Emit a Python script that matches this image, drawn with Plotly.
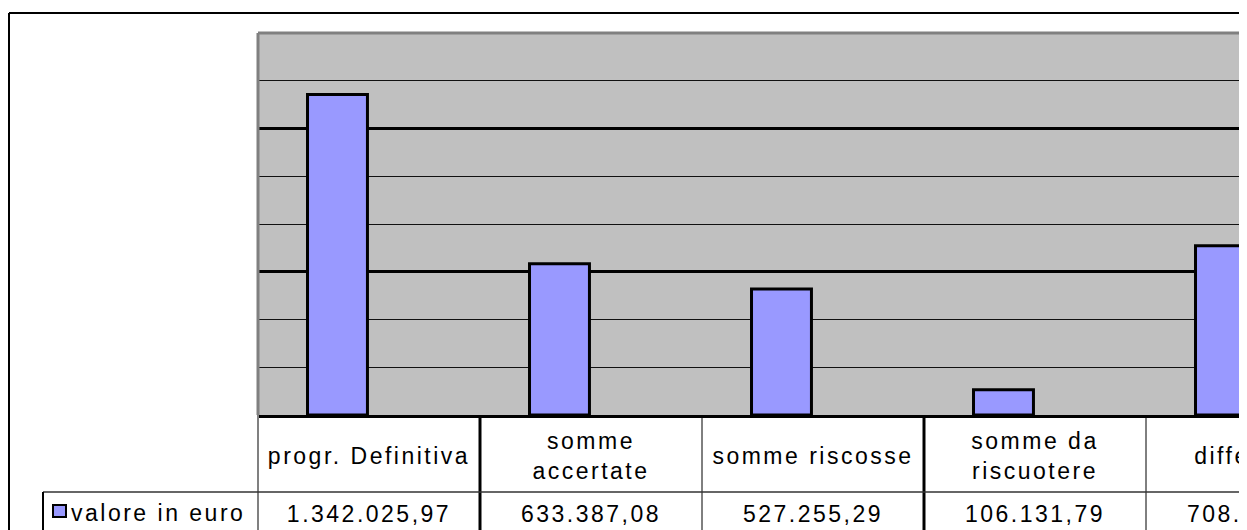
import plotly.graph_objects as go

# ---------------- data ----------------
categories = ["progr. Definitiva", "somme accertate", "somme riscosse",
              "somme da riscuotere", "differenza"]
table_labels = ["progr. Definitiva", "somme<br>accertate", "somme riscosse",
                "somme da<br>riscuotere", "differenza"]
values = [1342025.97, 633387.08, 527255.29, 106131.79, 708638.89]
series_name = "valore in euro"
y_max = 1600000
minor_step = 200000
major_step = 600000

# ---------------- helpers ----------------
# the page body adds an 8px margin, so the figure is 8px smaller
OFF = 8
W, H = 1247 - OFF, 530 - OFF
L, R, T, AX = 258, 1241, 33, 415          # plot area edges (page px)
PW, PH = R - L, 530 - T                    # paper size in px


def px_x(px):
    return (px - L) / PW


def px_y(py):
    return (530 - py) / PH


def it_fmt(v):
    s = f"{v:,.2f}"
    return s.replace(",", "X").replace(".", ",").replace("X", ".")


def spaced(t, ls=2.5):
    return "<br>".join(f"<span style='letter-spacing:{ls}px'>{p}</span>"
                       for p in t.split("<br>"))


FONT = "Liberation Sans, Arial, sans-serif"
FS = 23
BAR_COLOR = "#9999FF"
split = px_y(AX)

fig = go.Figure()

fig.add_trace(go.Bar(
    x=categories, y=values, name=series_name,
    marker=dict(color=BAR_COLOR, line=dict(color="black", width=3)),
    offset=-0.277, width=0.27, xaxis="x", yaxis="y",
))

fig.add_trace(go.Scatter(
    x=categories, y=[43] * len(categories), mode="text",
    text=[spaced(t) for t in table_labels],
    textfont=dict(family=FONT, size=FS, color="black"),
    textposition="middle center", xaxis="x2", yaxis="y2", hoverinfo="skip",
))

fig.add_trace(go.Scatter(
    x=categories, y=[101] * len(categories), mode="text",
    text=[spaced(it_fmt(v)) for v in values],
    textfont=dict(family=FONT, size=FS, color="black"),
    textposition="middle center", xaxis="x2", yaxis="y2", hoverinfo="skip",
))

x_hi = -0.5 + PW / 222.0

fig.update_layout(
    width=W, height=H,
    margin=dict(l=L - OFF, r=1247 - R, t=T - OFF, b=0, pad=0),
    paper_bgcolor="white", plot_bgcolor="rgba(0,0,0,0)",
    showlegend=False,
    font=dict(family=FONT, size=FS, color="black"),
    xaxis=dict(type="category", categoryorder="array", categoryarray=categories,
               range=[-0.5, x_hi], anchor="y", domain=[0, 1],
               showticklabels=False, showgrid=False, ticks="", zeroline=False,
               showline=True, linecolor="black", linewidth=3),
    xaxis2=dict(type="category", categoryorder="array", categoryarray=categories,
                matches="x", anchor="y2", domain=[0, 1],
                showticklabels=False, showgrid=False, ticks="", zeroline=False,
                showline=False),
    yaxis=dict(domain=[split, 1], range=[0, y_max], anchor="x",
               tick0=0, dtick=major_step, showgrid=True, gridcolor="black",
               gridwidth=3, showticklabels=False, ticks="", zeroline=False,
               showline=False,
               minor=dict(tick0=0, dtick=minor_step, showgrid=True,
                          gridcolor="#111111", gridwidth=1, ticks="")),
    yaxis2=dict(domain=[0, split], range=[115, 0], anchor="x2",
                showgrid=False, showticklabels=False, ticks="", zeroline=False,
                showline=False),
)

shapes = []
# grey plot background (below gridlines)
shapes.append(dict(type="rect", xref="x domain", yref="y domain", x0=0, x1=1,
                   y0=0, y1=1, fillcolor="#C0C0C0", line=dict(width=0),
                   layer="below"))
# plot area border (top + left, grey)
shapes.append(dict(type="line", xref="paper", yref="paper", x0=0, x1=1,
                   y0=1, y1=1, line=dict(color="#808080", width=3)))
shapes.append(dict(type="line", xref="paper", yref="paper", x0=0, x1=0,
                   y0=split, y1=1, line=dict(color="#808080", width=3)))
shapes.append(dict(type="line", xref="paper", yref="paper", x0=0, x1=0,
                   y0=0, y1=split, line=dict(color="#808080", width=2)))
# table column separators
for i, wdt in enumerate([3, 1, 3, 1]):
    shapes.append(dict(type="line", xref="x2", yref="y2", x0=i + 0.5, x1=i + 0.5,
                       y0=0, y1=115, line=dict(color="black", width=wdt)))
# table row separator and legend cell
shapes.append(dict(type="line", xref="paper", yref="paper", x0=px_x(43), x1=1,
                   y0=px_y(492), y1=px_y(492), line=dict(color="#333333", width=1.5)))
shapes.append(dict(type="line", xref="paper", yref="paper", x0=px_x(43), x1=px_x(43),
                   y0=0, y1=px_y(492), line=dict(color="black", width=2)))
# outer frame
shapes.append(dict(type="line", xref="paper", yref="paper", x0=px_x(9), x1=1,
                   y0=px_y(13), y1=px_y(13), line=dict(color="black", width=2)))
shapes.append(dict(type="line", xref="paper", yref="paper", x0=px_x(9), x1=px_x(9),
                   y0=0, y1=px_y(13), line=dict(color="black", width=2)))
# legend key
shapes.append(dict(type="rect", xref="paper", yref="paper", x0=px_x(53), x1=px_x(66),
                   y0=px_y(517), y1=px_y(505), fillcolor=BAR_COLOR,
                   line=dict(color="black", width=2)))
fig.update_layout(shapes=shapes)

fig.add_annotation(text=spaced(series_name), xref="paper", yref="paper",
                   x=px_x(69), y=px_y(513), xanchor="left", yanchor="middle",
                   showarrow=False, font=dict(family=FONT, size=FS, color="black"))

fig.write_html("out.html")
